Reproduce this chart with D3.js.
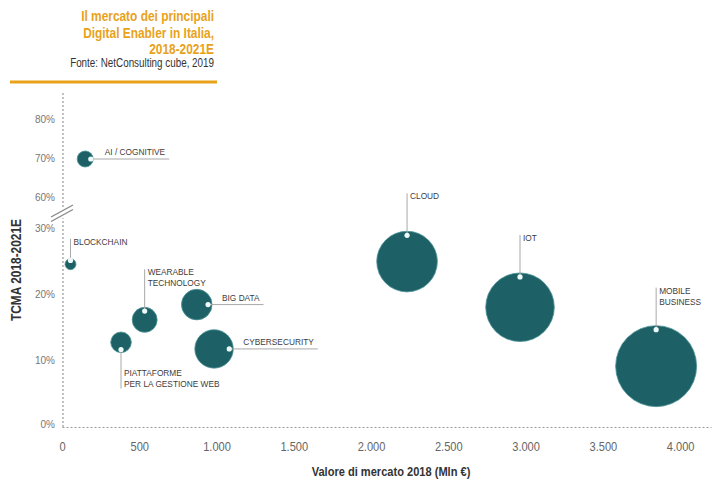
<!DOCTYPE html>
<html><head><meta charset="utf-8">
<script src="https://cdn.jsdelivr.net/npm/d3@7"></script>
<style>
html,body{margin:0;padding:0;background:#fff;}
svg{display:block;}
</style></head>
<body>
<svg id="c" width="712" height="480"></svg>
<script>
// ---- data ----
const categorie = [["AI / COGNITIVE"],["BLOCKCHAIN"],["WEARABLE","TECHNOLOGY"],["BIG DATA"],["CYBERSECURITY"],["PIATTAFORME","PER LA GESTIONE WEB"],["CLOUD"],["IOT"],["MOBILE","BUSINESS"]];
const valoreMercato2018 = [150, 55, 535, 872, 984, 382, 2233, 2964, 3845];
const tcma = [70, 24.6, 16.2, 18.5, 11.8, 12.8, 25.0, 18.1, 9.2];
const dimensione = [64, 30, 156, 234, 369, 106, 918, 1176, 1640];
const xTicks = [0, 500, 1000, 1500, 2000, 2500, 3000, 3500, 4000];
const yTicks = [0, 10, 20, 30, 60, 70, 80];
const titolo = ["Il mercato dei principali", "Digital Enabler in Italia,", "2018-2021E"];
const fonte = "Fonte: NetConsulting cube, 2019";
const xTitolo = "Valore di mercato 2018 (Mln €)";
const yTitolo = "TCMA 2018-2021E";
// label layout (annotation placement)
const labelSide = ["right","top","top","right","right","bottom","top","top","top"];

// ---- chart ----
const SANS = "'Liberation Sans',Arial,sans-serif";
const svg = d3.select("#c");
const teal = "#1d6166";
const gold = "#e8a21a";

// condense text horizontally (narrow typeface look)
function narrow(sel, f) {
  sel.each(function () {
    const L = this.getComputedTextLength();
    d3.select(this).attr("textLength", L * f).attr("lengthAdjust", "spacingAndGlyphs");
  });
}

const x = d3.scaleLinear().domain([0, 4200]).range([62, 711]);
const y = d3.scaleLinear().domain([0, 30, 60, 80]).range([427, 228.5, 198, 120]);
const r = d3.scaleSqrt().domain([0, 1640]).range([0, 40.5]);

// title
const tg = svg.append("g");
titolo.forEach((t, i) => {
  tg.append("text").attr("x", 214).attr("y", 21 + i * 16.5)
    .attr("text-anchor", "end").attr("font-family", SANS).attr("font-weight", "bold")
    .attr("font-size", 14.5).attr("fill", gold).text(t).call(narrow, 0.82);
});
tg.append("text").attr("x", 214).attr("y", 67).attr("text-anchor", "end")
  .attr("font-family", SANS).attr("font-size", 12).attr("fill", "#333").text(fonte).call(narrow, 0.82);
tg.append("line").attr("x1", 10).attr("x2", 217).attr("y1", 82).attr("y2", 82)
  .attr("stroke", gold).attr("stroke-width", 3);

// axes
const fmt = d3.formatLocale({decimal: ",", thousands: ".", grouping: [3], currency: ["", "€"]}).format(",");
const xAxis = d3.axisBottom(x).tickValues(xTicks).tickFormat(fmt).tickSize(0).tickPadding(14);
const gx = svg.append("g").attr("transform", `translate(0,${y(0)})`).call(xAxis);
gx.select(".domain").attr("stroke", "#9a9a9a").attr("stroke-width", 1.2).attr("stroke-dasharray", "2,2");
gx.selectAll("text").attr("font-family", SANS).attr("font-size", 13.5).attr("fill", "#666").call(narrow, 0.82);

const yAxis = d3.axisLeft(y).tickValues(yTicks).tickFormat(d => d + "%").tickSize(0).tickPadding(8);
const gy = svg.append("g").attr("transform", `translate(63,0)`).call(yAxis);
gy.select(".domain").remove();
gy.selectAll("text").attr("font-family", SANS).attr("font-size", 10).attr("fill", "#777").attr("dy", "0.25em");
gy.selectAll(".tick").filter(d => d === 0).select("text").attr("dy", "0.05em");
// dotted vertical axis
svg.append("line").attr("x1", 63).attr("x2", 63).attr("y1", 93).attr("y2", y(0))
  .attr("stroke", "#9a9a9a").attr("stroke-width", 1.2).attr("stroke-dasharray", "2,2");
// axis break
const yb = (y(30) + y(60)) / 2;
svg.append("rect").attr("x", 58).attr("y", yb - 5).attr("width", 10).attr("height", 10).attr("fill", "#fff");
[-2.2, 2.2].forEach(o => {
  svg.append("line").attr("x1", 51).attr("y1", yb + 6 + o).attr("x2", 73).attr("y2", yb - 6 + o)
    .attr("stroke", "#888").attr("stroke-width", 1.3);
});

// axis titles
svg.append("text").attr("x", 391).attr("y", 476).attr("text-anchor", "middle")
  .attr("font-family", SANS).attr("font-weight", "bold").attr("font-size", 13.5).attr("fill", "#333").text(xTitolo).call(narrow, 0.82);
svg.append("text").attr("transform", "translate(21,270) rotate(-90)").attr("text-anchor", "middle")
  .attr("font-family", SANS).attr("font-weight", "bold").attr("font-size", 14.5).attr("fill", "#333").text(yTitolo).call(narrow, 0.82);

// data
const data = categorie.map((c, i) => ({lab: c, v: valoreMercato2018[i], g: tcma[i], s: dimensione[i], side: labelSide[i]}));

const gb = svg.append("g");
gb.selectAll("circle.b").data(data).join("circle").attr("class", "b")
  .attr("cx", d => x(d.v)).attr("cy", d => y(d.g)).attr("r", d => r(d.s))
  .attr("fill", teal).attr("stroke", "#4e9499").attr("stroke-width", 0.8);

const ga = svg.append("g");
data.forEach(d => {
  const cx = x(d.v), cy = y(d.g), rr = r(d.s);
  const inset = Math.min(4, rr * 0.3);
  let dx = cx, dy = cy;
  const g = ga.append("g");
  const lineAttr = sel => sel.attr("stroke", "#a8a8a8").attr("stroke-width", 1);
  const txt = (tx, ty, lines, anchor) => {
    const t = g.append("text").attr("font-family", SANS).attr("font-size", 8.3).attr("fill", "#3d3d3d")
      .attr("text-anchor", anchor || "start");
    lines.forEach((l, i) => t.append("tspan").attr("x", tx).attr("y", ty + i * 11).text(l));
    return t;
  };
  if (d.side === "right") {
    dx = cx + rr - inset;
    const t = txt(dx + 14, cy - 4, d.lab);
    const w = t.node().getComputedTextLength();
    g.insert("line", "text").attr("x1", dx).attr("x2", dx + 14 + w + 4).attr("y1", cy).attr("y2", cy).call(lineAttr);
  } else if (d.side === "top") {
    dy = cy - rr + inset;
    const len = rr < 8 ? 20 : 38;
    const top = cy - rr - len;
    g.append("line").attr("x1", cx).attr("x2", cx).attr("y1", dy).attr("y2", top).call(lineAttr);
    txt(cx + 3, top + 6, d.lab);
  } else {
    dy = cy + rr - inset;
    const bot = cy + rr + 36;
    g.append("line").attr("x1", cx).attr("x2", cx).attr("y1", dy).attr("y2", bot).call(lineAttr);
    txt(cx + 3, bot - 13, d.lab);
  }
  g.append("circle").attr("cx", dx).attr("cy", dy).attr("r", 2.6).attr("fill", "#eefafa");
});
</script>
</body></html>
